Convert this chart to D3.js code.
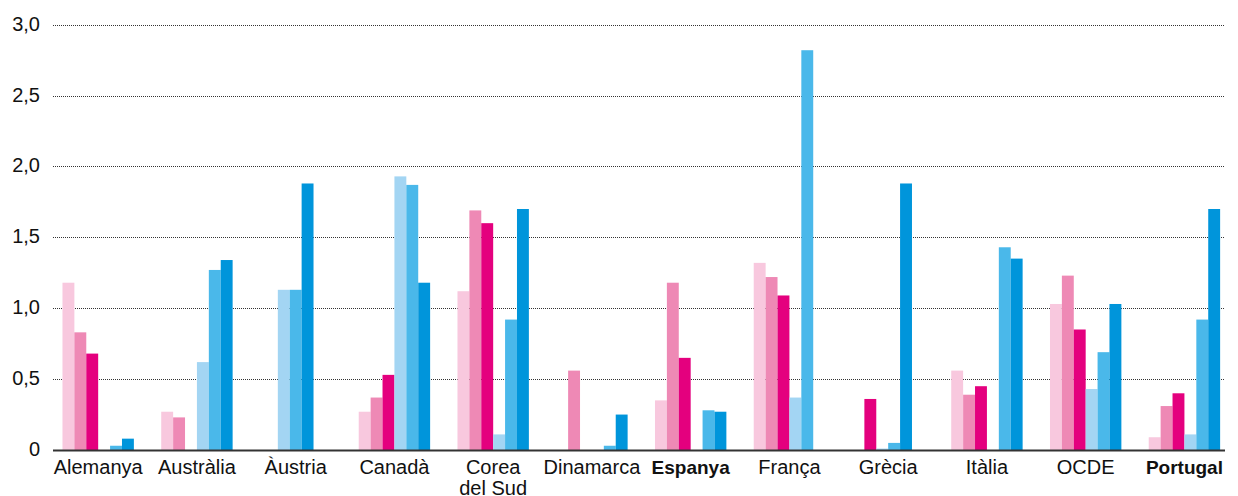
<!DOCTYPE html>
<html lang="ca">
<head>
  <meta charset="UTF-8">
  <title>Grouped bar chart</title>
  <script src="https://d3js.org/d3.v7.min.js"></script>
  <style>
    body {
      margin: 0;
      background: #fff;
    }
    text {
      font-family: "Liberation Sans", Arial, sans-serif;
      fill: #111;
    }
  </style>
</head>
<body>
  <svg id="chart" width="1238" height="496"></svg>

  <script>
    // countries (x axis)
    const countries = ["Alemanya", "Austràlia", "Àustria", "Canadà", "Corea del Sud", "Dinamarca",
                       "Espanya", "França", "Grècia", "Itàlia", "OCDE", "Portugal"];
    const boldCountries = ["Espanya", "Portugal"];

    // six series per country, null = no bar (and no slot)
    const pink1  = [1.18, 0.27, null, 0.27, 1.12, 0,    0.35, 1.32, null, 0.56, 1.03, 0.09];
    const pink2  = [0.83, 0.23, null, 0.37, 1.69, 0.56, 1.18, 1.22, null, 0.39, 1.23, 0.31];
    const pink3  = [0.68, 0,    null, 0.53, 1.60, 0,    0.65, 1.09, 0.36, 0.45, 0.85, 0.40];
    const blue1  = [0,    0.62, 1.13, 1.93, 0.11, 0,    0,    0.37, 0.01, 0,    0.43, 0.11];
    const blue2  = [0.03, 1.27, 1.13, 1.87, 0.92, 0.03, 0.28, 2.82, 0.05, 1.43, 0.69, 0.92];
    const blue3  = [0.08, 1.34, 1.88, 1.18, 1.70, 0.25, 0.27, 0,    1.88, 1.35, 1.03, 1.70];

    const yTicks = [0, 0.5, 1, 1.5, 2, 2.5, 3];

    const series = [
      {key: "p1", values: pink1, color: "#f8c8de"},
      {key: "p2", values: pink2, color: "#ee89b5"},
      {key: "p3", values: pink3, color: "#e4007e"},
      {key: "b1", values: blue1, color: "#a3d5f3"},
      {key: "b2", values: blue2, color: "#4ab8ea"},
      {key: "b3", values: blue3, color: "#0095db"}
    ];

    const svg = d3.select("#chart");

    const gridLeft = 53, gridRight = 1225, baseY = 450, topY = 24.7;
    const barWidth = 11.9;

    const x = d3.scaleBand()
      .domain(countries)
      .range([48.8, 1233.8]);

    const y = d3.scaleLinear()
      .domain([0, 3])
      .range([baseY, topY]);

    const fmt = d => d === 0 ? "0" : d3.format(".1f")(d).replace(".", ",");

    // dotted gridlines
    svg.append("g")
      .selectAll("line")
      .data(yTicks.filter(d => d > 0))
      .join("line")
        .attr("x1", gridLeft)
        .attr("x2", gridRight)
        .attr("y1", d => Math.round(y(d)) + 0.5)
        .attr("y2", d => Math.round(y(d)) + 0.5)
        .attr("stroke", "#333")
        .attr("stroke-width", 1)
        .attr("stroke-dasharray", "1,1");

    // y labels
    svg.append("g")
      .selectAll("text")
      .data(yTicks)
      .join("text")
        .attr("x", 40)
        .attr("y", d => y(d) + 6)
        .attr("text-anchor", "end")
        .attr("font-size", 20)
        .text(fmt);

    // bars, nulls dropped and the rest centred on the band
    const groups = svg.append("g")
      .selectAll("g")
      .data(countries)
      .join("g");

    groups.each(function(c, i) {
      const present = series.filter(s => s.values[i] !== null);
      const cx = x(c) + x.bandwidth() / 2;
      const sub = d3.scaleBand()
        .domain(present.map(s => s.key))
        .range([cx - present.length * barWidth / 2, cx + present.length * barWidth / 2]);

      d3.select(this).selectAll("rect")
        .data(present)
        .join("rect")
          .attr("x", s => sub(s.key))
          .attr("width", sub.bandwidth())
          .attr("y", s => y(s.values[i]))
          .attr("height", s => y(0) - y(s.values[i]))
          .attr("fill", s => s.color);
    });

    // base line
    svg.append("line")
      .attr("x1", gridLeft)
      .attr("x2", gridRight)
      .attr("y1", baseY + 0.5)
      .attr("y2", baseY + 0.5)
      .attr("stroke", "#333")
      .attr("stroke-width", 2);

    // country labels
    const labels = svg.append("g")
      .selectAll("text")
      .data(countries)
      .join("text")
        .attr("x", d => x(d) + x.bandwidth() / 2)
        .attr("y", 474)
        .attr("text-anchor", "middle")
        .attr("font-size", d => boldCountries.includes(d) ? 19 : 20)
        .attr("font-weight", d => boldCountries.includes(d) ? "bold" : "normal");

    labels.each(function(d) {
      const t = d3.select(this);
      if (d === "Corea del Sud") {
        t.append("tspan").attr("x", t.attr("x")).text("Corea");
        t.append("tspan").attr("x", t.attr("x")).attr("dy", 21).text("del Sud");
      } else {
        t.text(d);
      }
    });
  </script>
</body>
</html>
